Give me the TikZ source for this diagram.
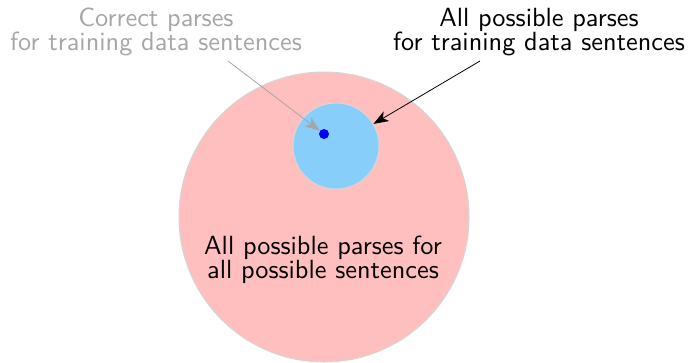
\documentclass[tikz,border=0pt]{standalone}
\usepackage{fontspec}
\newfontfamily\lmsten{lmsans10-regular.otf}
\usetikzlibrary{arrows.meta}
\definecolor{bigpink}{HTML}{FFBFBF}
\definecolor{skyb}{HTML}{87CEFA}
\definecolor{rimgray}{HTML}{D6D6D6}
\definecolor{labgray}{HTML}{A6A6A6}
\begin{document}
\begin{tikzpicture}[x=1pt,y=-1pt,
  lab/.style={font=\lmsten\fontsize{26.3}{24.3}\selectfont, align=center, inner sep=0pt},
  ptr/.style={-{Stealth[length=15pt,width=11pt,inset=4pt]}, line width=0.8pt}]
\useasboundingbox (0,0) rectangle (690,363);
\fill[bigpink, draw=rimgray, line width=1pt] (324,217) circle (145);
\node[circle, minimum size=86pt, inner sep=0pt, fill=skyb, draw=rimgray, line width=1pt] (train) at (336,146) {};
\node[circle, minimum size=10pt, inner sep=0pt, fill=blue] (correct) at (324,134) {};
\node[lab, text=labgray] (lc) at (156,32) {Correct parses\\for training data sentences};
\node[lab] (lt) at (539,32) {All possible parses\\for training data sentences};
\node[lab] (la) at (323,260) {All possible parses for\\all possible sentences};
\coordinate (gs) at (228,61);
\coordinate (bs) at (480,61);
\draw[ptr, labgray] (gs) -- (correct);
\draw[ptr, black] (bs) -- (train);
\end{tikzpicture}
\end{document}
